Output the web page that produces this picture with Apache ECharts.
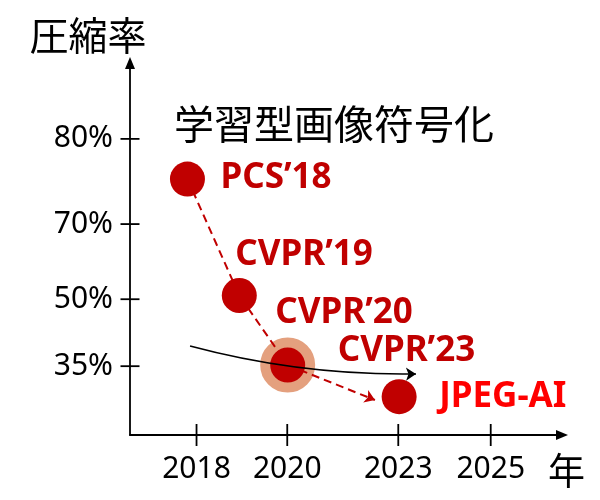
<!DOCTYPE html>
<html>
<head>
<meta charset="utf-8">
<script src="https://cdn.jsdelivr.net/npm/echarts@6/dist/echarts.min.js"></script>
<style>
  html, body { margin: 0; padding: 0; background: #fff; }
  #chart { width: 600px; height: 500px; }
</style>
</head>
<body>
<div id="chart"></div>
<script>
// 軸は模式図（等間隔ではない）なので、位置は 0-100 の模式座標で持つ
const yearLabels = ['2018', '2020', '2023', '2025'];
const yearPos = [15.4, 36.4, 62.1, 83.5];
const rateLabels = ['80%', '70%', '50%', '35%'];
const ratePos = [79.6, 56.7, 36.5, 18.5];

const paperNames = ['PCS’18', 'CVPR’19', 'CVPR’23', 'JPEG-AI'];
const paperSubNames = ['', 'CVPR’20', '', ''];
const paperX = [13.3, 25.3, 36.5, 62.3];
const paperY = [68.8, 37.5, 18.8, 10.3];

const trendEnd = [56.7, 9.4];
const overallStart = [13.9, 23.9];
const overallEnd = [66.2, 16.4];

const RED = '#c00000';
const HALO = '#e4a07e';
const latinFont = "'Noto Sans', 'Noto Sans CJK JP', sans-serif";
const jpFont = "'Noto Sans CJK JP', sans-serif";

const labelOffsets = [[33, -1], [-4, -11], [50, -14], [40, 0]];
const labelColors = [RED, RED, RED, '#ff0000'];

const axisLineStyle = { color: '#000', width: 1.8 };

const points = paperX.map((x, i) => ({
    value: [x, paperY[i]],
    name: paperNames[i],
    symbolSize: i === 2 ? 45 : 35,
    itemStyle: i === 2
        ? { color: RED, borderColor: HALO, borderWidth: 10, opacity: 1 }
        : { color: RED, opacity: 1 },
    label: { offset: labelOffsets[i], color: labelColors[i] },
}));

const p = i => [paperX[i], paperY[i]];

// 目盛りは軸をまたぐ十字型なので custom で描く
const crossTicks = (data, horizontal, half) => ({
    type: 'custom',
    coordinateSystem: 'cartesian2d',
    silent: true,
    clip: false,
    z: 5,
    data,
    renderItem: (params, api) => {
        const pt = api.coord([api.value(0), api.value(1)]);
        const shape = horizontal
            ? { x1: pt[0] - half, y1: pt[1], x2: pt[0] + half, y2: pt[1] }
            : { x1: pt[0], y1: pt[1] - half, x2: pt[0], y2: pt[1] + half };
        return { type: 'line', shape, style: { stroke: '#000', lineWidth: 1.8 } };
    },
});

const chart = echarts.init(document.getElementById('chart'), null, { renderer: 'canvas' });

chart.setOption({
    animation: false,
    backgroundColor: '#fff',
    title: {
        text: '学習型画像符号化',
        left: 174,
        top: 104,
        padding: 0,
        textStyle: { fontFamily: jpFont, fontSize: 40, fontWeight: 'normal', color: '#000' },
    },
    grid: { left: 130, right: 38, top: 63, bottom: 65 },
    xAxis: {
        type: 'value',
        min: 0,
        max: 100,
        position: 'bottom',
        axisLine: { show: true, onZero: false, lineStyle: axisLineStyle, symbol: ['none', 'triangle'], symbolSize: [10, 12] },
        axisTick: { show: false },
        axisLabel: {
            customValues: yearPos,
            formatter: v => yearLabels[yearPos.indexOf(v)],
            fontFamily: latinFont,
            fontSize: 30,
            color: '#000',
            margin: 19,
        },
        splitLine: { show: false },
        name: '年',
        nameLocation: 'end',
        nameGap: -14,
        nameTextStyle: {
            fontFamily: jpFont,
            fontSize: 37,
            color: '#000',
            align: 'left',
            verticalAlign: 'top',
            padding: [17, 0, 0, 0],
        },
    },
    yAxis: {
        type: 'value',
        min: 0,
        max: 100,
        position: 'left',
        axisLine: { show: true, onZero: false, lineStyle: axisLineStyle, symbol: ['none', 'triangle'], symbolSize: [10, 12] },
        axisTick: { show: false },
        axisLabel: {
            customValues: ratePos,
            formatter: v => rateLabels[ratePos.indexOf(v)],
            fontFamily: latinFont,
            fontSize: 30,
            color: '#000',
            margin: 17,
        },
        splitLine: { show: false },
        name: '圧縮率',
        nameLocation: 'end',
        nameGap: 8,
        nameTextStyle: {
            fontFamily: jpFont,
            fontSize: 39,
            color: '#000',
            align: 'center',
            padding: [0, 84, 0, 0],
        },
    },
    series: [
        {
            name: '論文',
            type: 'scatter',
            z: 2,
            data: points,
            label: {
                show: true,
                position: 'inside',
                align: 'left',
                verticalAlign: 'middle',
                fontFamily: latinFont,
                fontSize: 35,
                fontWeight: 'bold',
                formatter: prm => paperSubNames[prm.dataIndex]
                    ? `{a|${prm.name}}\n{b|${paperSubNames[prm.dataIndex]}}`
                    : prm.name,
                rich: {
                    a: { fontFamily: latinFont, fontSize: 35, fontWeight: 'bold', color: RED, lineHeight: 58 },
                    b: { fontFamily: latinFont, fontSize: 35, fontWeight: 'bold', color: RED, lineHeight: 58, padding: [0, 0, 0, 40] },
                },
            },
        },
        {
            name: '推移',
            type: 'lines',
            coordinateSystem: 'cartesian2d',
            polyline: true,
            z: 3,
            symbol: 'none',
            lineStyle: { color: RED, width: 2, type: [8, 5], opacity: 1 },
            data: [{ coords: [p(0), p(1), p(2)] }],
        },
        {
            name: '推移矢印',
            type: 'lines',
            coordinateSystem: 'cartesian2d',
            z: 3,
            symbol: ['none', 'arrow'],
            symbolSize: 10,
            lineStyle: { color: RED, width: 2, type: [8, 5], opacity: 1 },
            data: [{ coords: [p(2), trendEnd] }],
        },
        {
            name: '全体傾向',
            type: 'lines',
            coordinateSystem: 'cartesian2d',
            z: 4,
            symbol: ['none', 'arrow'],
            symbolSize: 10,
            lineStyle: { color: '#000', width: 1.5, curveness: -0.07, opacity: 1 },
            data: [{ coords: [overallStart, overallEnd] }],
        },
        crossTicks(yearPos.map(v => [v, 0]), false, 11),
        crossTicks(ratePos.map(v => [0, v]), true, 9.5),
    ],
});
</script>
</body>
</html>
